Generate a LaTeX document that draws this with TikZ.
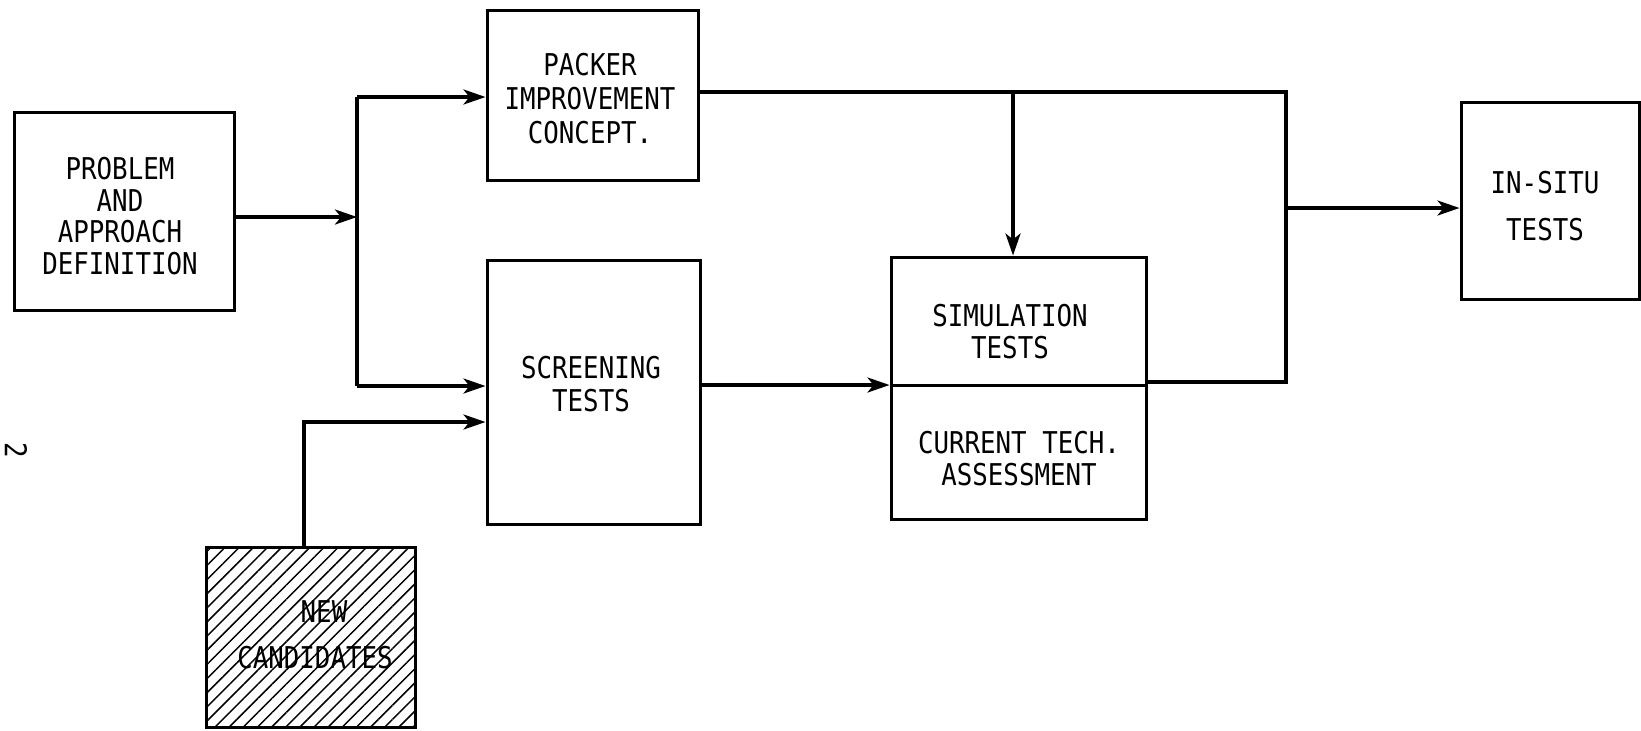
\documentclass[tikz,border=0pt]{standalone}
\usepackage{fontspec}
\newfontfamily\lettering[FakeStretch=0.86]{DejaVu Sans Mono}
\usetikzlibrary{arrows.meta,patterns.meta}

\begin{document}
\begin{tikzpicture}[x=0.5pt,y=-0.5pt,
  block/.style={draw,line width=1.5pt,inner sep=0pt},
  caption/.style={align=center,inner sep=0pt,
    font=\lettering\fontsize{15}{#1}\selectfont},
  caption/.default=15.75pt,
  link/.style={line width=1.7pt},
  flow/.style={link,-{Stealth[length=11pt,width=7.5pt,inset=3pt]}}]

% page
\fill[white] (0,0) rectangle (1641,730);
\useasboundingbox (0,0) rectangle (1641,730);

% blocks
\node[block,minimum width=110pt,minimum height=99pt] (prob) at (124,211.5) {};
\node[block,minimum width=105.5pt,minimum height=85pt] (pack) at (592.5,95) {};
\node[block,minimum width=106.5pt,minimum height=132pt] (scr) at (593.5,392) {};
\node[block,minimum width=127.5pt,minimum height=131pt] (sim) at (1018.5,388) {};
\node[block,minimum width=89pt,minimum height=98.5pt] (insitu) at (1550,200.5) {};
\node[block,minimum width=104.5pt,minimum height=90pt,
  pattern={Lines[angle=45,distance=5pt,line width=0.75pt]}] (newc) at (310.5,637) {};

% lettering
\node[caption] (probtxt) at (120,216) {PROBLEM\\AND\\APPROACH\\DEFINITION};
\node[caption=17pt] (packtxt) at (590,99) {PACKER\\IMPROVEMENT\\CONCEPT.};
\node[caption=16.5pt] (scrtxt) at (591,384.5) {SCREENING\\TESTS};
\node[caption] (simtxt) at (1010,331.5) {SIMULATION\\TESTS};
\node[caption=16pt] (curtxt) at (1019,459) {CURRENT TECH.\\ASSESSMENT};
\node[caption=23.5pt] (insitutxt) at (1545,206.5) {IN-SITU\\TESTS};
\node[caption] (newtxt) at (324,612) {NEW};
\node[caption] (candtxt) at (315,658) {CANDIDATES};
\node[inner sep=0pt,font=\lettering\fontsize{15}{15}\selectfont,rotate=-90] (pg) at (16,450) {2};

% divider inside the simulation block
\coordinate (div) at (1018,385);
\draw[line width=1.5pt] (div -| sim.west) -- (div -| sim.east);

% distribution bus after problem definition
\coordinate (bin) at (357,217);
\coordinate (btop) at (357,97);
\coordinate (bbot) at (357,386);
\draw[flow] (prob.east |- bin) -- (bin);
\draw[link] (btop) -- (bbot);
\draw[flow] (btop) -- (btop -| pack.west);
\draw[flow] (bbot) -- (bbot -| scr.west);

% new candidates into screening
\coordinate (nc) at (304,422);
\draw[flow] (nc |- newc.north) -- (nc) -- (nc -| scr.west);

% screening into simulation
\coordinate (sc) at (700,385);
\draw[flow] (sc -| scr.east) -- (sc -| sim.west);

% packer concept line and return bus
\coordinate (tr) at (1286,92);
\coordinate (br) at (1286,382);
\coordinate (drop) at (1013,92);
\draw[link] (pack.east |- tr) -- (tr) -- (br) -- (br -| sim.east);
\draw[flow] (drop) -- (drop |- sim.north);

% to in-situ tests
\coordinate (out) at (1286,208);
\draw[flow] (out) -- (out -| insitu.west);

\end{tikzpicture}
\end{document}
